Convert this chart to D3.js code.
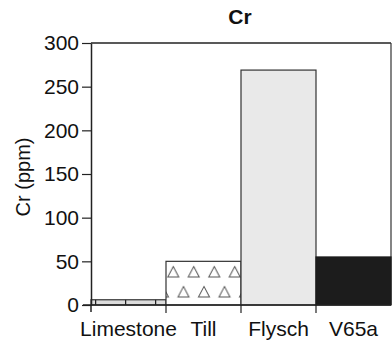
<!DOCTYPE html>
<html><head><meta charset="utf-8">
<script src="https://cdn.jsdelivr.net/npm/d3@7"></script>
<style>body{margin:0;background:#fff}svg{display:block}text{font-family:"Liberation Sans",Arial,sans-serif;fill:#111}</style>
</head><body><svg id="c" width="392" height="342"></svg>
<script>
const categories = ["Limestone", "Till", "Flysch", "V65a"];
const values = [6, 50, 269, 55];
const yTicks = [0, 50, 100, 150, 200, 250, 300];
const fills = ["url(#brick)", "url(#tri)", "#e9e9e9", "#1c1c1c"];

const svg = d3.select("#c");
const L = 91, R = 391, T = 43, B = 305;
const x = d3.scaleBand().domain(categories).range([L, R]).padding(0);
const y = d3.scaleLinear().domain([0, 300]).range([B, T]);

const defs = svg.append("defs");
const brick = defs.append("pattern").attr("id", "brick").attr("patternUnits", "userSpaceOnUse")
  .attr("x", 125).attr("y", 0).attr("width", 30).attr("height", 40);
brick.append("rect").attr("width", 30).attr("height", 40).attr("fill", "#dcdcdc");
brick.append("line").attr("x1", 0.5).attr("x2", 0.5).attr("y1", 0).attr("y2", 40).attr("stroke", "#222").attr("stroke-width", 1.5);

const tri = defs.append("pattern").attr("id", "tri").attr("patternUnits", "userSpaceOnUse")
  .attr("x", 163).attr("y", 262).attr("width", 20.5).attr("height", 40);
tri.append("rect").attr("width", 20.5).attr("height", 40).attr("fill", "#fff");
const triPath = (cx, cy) => `M${cx},${cy-5.5}L${cx+5.5},${cy+5}L${cx-5.5},${cy+5}Z`;
tri.append("path").attr("d", triPath(10.25, 10)).attr("fill", "none").attr("stroke", "#555").attr("stroke-width", 1);
tri.append("path").attr("d", triPath(0, 30)).attr("fill", "none").attr("stroke", "#555").attr("stroke-width", 1);
tri.append("path").attr("d", triPath(20.5, 30)).attr("fill", "none").attr("stroke", "#555").attr("stroke-width", 1);

// frame
svg.append("line").attr("x1", L).attr("x2", R).attr("y1", T).attr("y2", T).attr("stroke", "#222").attr("stroke-width", 1.5);
svg.append("line").attr("x1", R).attr("x2", R).attr("y1", T).attr("y2", B).attr("stroke", "#333").attr("stroke-width", 1.2);

// bars
svg.selectAll("rect.bar").data(categories).join("rect").attr("class", "bar")
  .attr("x", d => x(d)).attr("width", x.bandwidth())
  .attr("y", (d, i) => y(values[i])).attr("height", (d, i) => B - y(values[i]))
  .attr("fill", (d, i) => fills[i])
  .attr("stroke", (d, i) => i === 3 ? "#1c1c1c" : "#333").attr("stroke-width", 1.2);

// y axis
const ya = svg.append("g").attr("transform", `translate(${L},0)`)
  .call(d3.axisLeft(y).tickValues(yTicks).tickSize(9).tickSizeOuter(0).tickPadding(3));
ya.select(".domain").attr("stroke", "#222").attr("stroke-width", 1.5);
ya.selectAll(".tick line").attr("stroke", "#222").attr("stroke-width", 1.2);
ya.selectAll(".tick text").attr("font-size", 21).attr("font-family", "Liberation Sans, Arial, sans-serif").attr("fill", "#111");
svg.append("line").attr("x1", L).attr("x2", L).attr("y1", B).attr("y2", B + 7).attr("stroke", "#222").attr("stroke-width", 1.5);

// x axis
svg.append("line").attr("x1", L - 8).attr("x2", R).attr("y1", B).attr("y2", B).attr("stroke", "#222").attr("stroke-width", 1.5);
svg.selectAll("line.xt").data(categories.slice(1)).join("line").attr("class", "xt")
  .attr("x1", d => x(d)).attr("x2", d => x(d)).attr("y1", B).attr("y2", B + 8)
  .attr("stroke", "#222").attr("stroke-width", 1.2);
svg.selectAll("text.xl").data(categories).join("text").attr("class", "xl")
  .attr("x", d => x(d) + x.bandwidth() / 2).attr("y", 336)
  .attr("text-anchor", "middle").attr("font-size", 21).text(d => d);

// title
svg.append("text").attr("x", 240).attr("y", 24).attr("text-anchor", "middle")
  .attr("font-size", 21).attr("font-weight", "bold").text("Cr");
// y label
svg.append("text").attr("transform", "translate(30,177) rotate(-90)").attr("text-anchor", "middle")
  .attr("font-size", 20).text("Cr (ppm)");
</script></body></html>
